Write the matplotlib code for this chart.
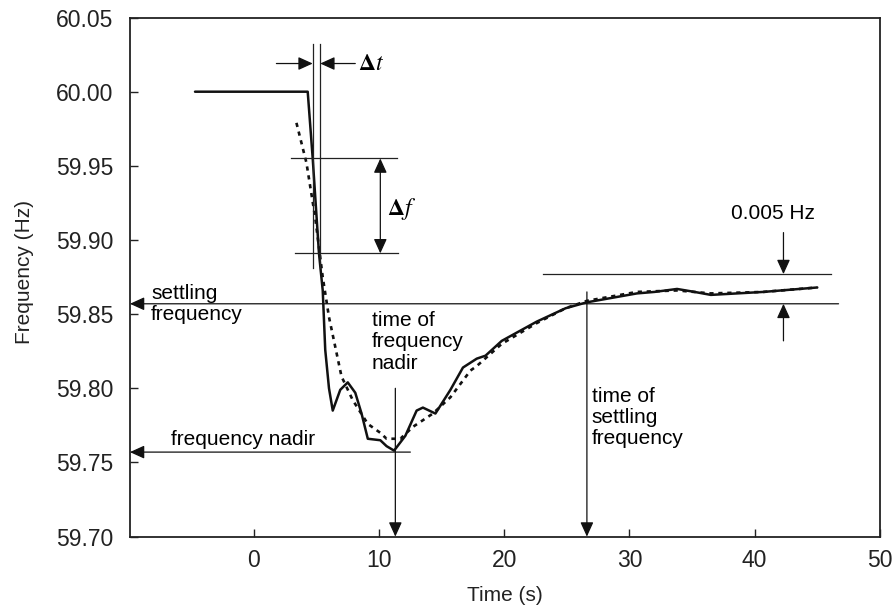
import matplotlib.pyplot as plt

plt.rcParams['font.family'] = ['Liberation Sans', 'DejaVu Sans']
plt.rcParams['mathtext.fontset'] = 'stix'

# measured frequency response (solid) and fitted response (dashed)
solid_t = [-4.7, 4.3, 4.7, 5.2, 5.5, 5.7, 6.0, 6.3, 6.9, 7.5, 8.1, 8.6, 9.1, 10.1, 10.6,
           11.2, 12.1, 13.0, 13.5, 14.5, 15.7, 16.7, 17.8, 18.5, 19.8, 22.6, 24.9, 26.6,
           30.6, 32.0, 33.8, 35.2, 36.5, 40.7, 45.0]
solid_f = [60.000, 60.000, 59.955, 59.891, 59.866, 59.826, 59.800, 59.785, 59.799, 59.804,
           59.797, 59.783, 59.766, 59.765, 59.761, 59.758, 59.768, 59.785, 59.787, 59.783,
           59.799, 59.814, 59.820, 59.822, 59.832, 59.845, 59.854, 59.858, 59.864, 59.865,
           59.867, 59.865, 59.863, 59.865, 59.868]

dash_t = [3.4, 4.2, 4.9, 5.5, 6.0, 6.5, 7.0, 7.9, 9.1, 10.1, 10.6, 11.7, 12.7, 14.3,
          15.7, 17.3, 17.8, 19.8, 22.6, 24.9, 26.6, 30.6, 33.8, 36.5, 40.7, 45.0]
dash_f = [59.979, 59.952, 59.915, 59.875, 59.848, 59.828, 59.808, 59.792, 59.776, 59.770,
          59.766, 59.766, 59.774, 59.783, 59.794, 59.812, 59.815, 59.830, 59.844, 59.854,
          59.859, 59.865, 59.866, 59.864, 59.865, 59.868]

# annotation values
settling_f = 59.857
settling_t = 26.6
nadir_f = 59.757
nadir_t = 11.3
band_top = 59.877
dt_lines = [4.7, 5.3]
df_levels = [59.955, 59.891]

xticks = [0, 10, 20, 30, 40, 50]
yticks = [59.70, 59.75, 59.80, 59.85, 59.90, 59.95, 60.00, 60.05]

fig = plt.figure(figsize=(8.96, 6.05), dpi=100)
ax = fig.add_axes([0.145, 0.113, 0.837, 0.858])

ax.plot(solid_t, solid_f, color='#111111', lw=1.8, solid_joinstyle='round',
        solid_capstyle='round')
ax.plot(dash_t, dash_f, color='#111111', lw=1.9, dashes=(1.6, 1.8))

ax.set_xlim(-9.9, 50)
ax.set_ylim(59.70, 60.05)
ax.set_xticks(xticks)
ax.set_yticks(yticks)
ax.set_yticklabels(['%.2f' % v for v in yticks])
ax.tick_params(direction='in', length=6, width=1.0, labelsize=16.5, colors='#222222')
ax.tick_params(axis='y', pad=12)
ax.tick_params(axis='x', pad=9)
for s in ax.spines.values():
    s.set_linewidth(1.3)
    s.set_color('#222222')
ax.set_xlabel('Time (s)', fontsize=15, labelpad=10, color='#222222')
ax.set_ylabel('Frequency (Hz)', fontsize=15, color='#222222')
ax.yaxis.set_label_coords(-0.128, 0.51)

lw = 0.9
kw = dict(color='#222222', lw=lw)


def arrow(x0, y0, x1, y1, style='-|>'):
    ax.annotate('', xy=(x1, y1), xytext=(x0, y0),
                arrowprops=dict(arrowstyle=style + ',head_length=0.55,head_width=0.25',
                                mutation_scale=16, color='#111111', lw=lw,
                                shrinkA=0, shrinkB=0))


# delta t
for t in dt_lines:
    ax.plot([t, t], [60.032, 59.881], **kw)
arrow(1.8, 60.019, dt_lines[0], 60.019)
arrow(8.1, 60.019, dt_lines[1], 60.019)
ax.text(8.3, 60.019, r'$\mathbf{\Delta}\mathit{t}$', fontsize=17, va='center')

# delta f
ax.plot([3.0, 11.4], [df_levels[0]] * 2, **kw)
ax.plot([3.3, 11.5], [df_levels[1]] * 2, **kw)
arrow(10.1, df_levels[1], 10.1, df_levels[0], style='<|-|>')
ax.text(10.6, 59.921, r'$\mathbf{\Delta}\mathit{f}$', fontsize=17, va='center')

# settling frequency
arrow(46.7, settling_f, -9.9, settling_f)
ax.text(-8.2, settling_f, 'settling\nfrequency', fontsize=15, va='center',
        linespacing=1.15)
ax.plot([23.1, 46.1], [band_top] * 2, **kw)
arrow(42.3, 59.905, 42.3, band_top)
arrow(42.3, 59.832, 42.3, settling_f)
ax.text(38.1, 59.918, '0.005 Hz', fontsize=15, va='center')

# nadir
arrow(12.5, nadir_f, -9.9, nadir_f)
ax.text(-6.6, nadir_f + 0.002, 'frequency nadir', fontsize=15, va='bottom')
arrow(nadir_t, 59.800, nadir_t, 59.700)
ax.text(9.4, 59.852, 'time of\nfrequency\nnadir', fontsize=15, va='top',
        linespacing=1.15)

# settling time
arrow(settling_t, 59.865, settling_t, 59.700)
ax.text(27.0, 59.801, 'time of\nsettling\nfrequency', fontsize=15, va='top',
        linespacing=1.15)

fig.savefig('out.png', dpi=100)
